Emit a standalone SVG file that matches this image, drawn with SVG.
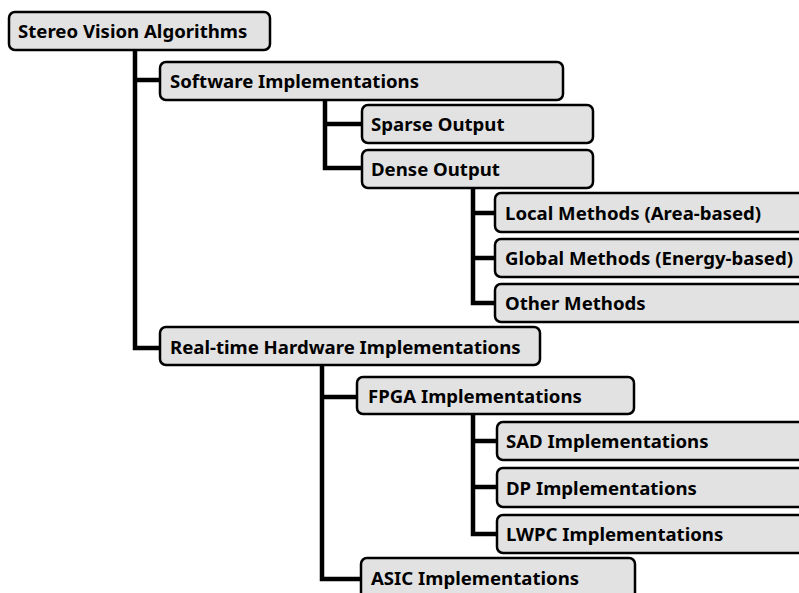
<svg xmlns="http://www.w3.org/2000/svg" width="799" height="593" viewBox="0 0 799 593">
<style>
.box{fill:#e2e2e2;stroke:#000;stroke-width:2.5}
.t{font-family:"Noto Sans","Open Sans",sans-serif;font-weight:bold;font-size:18.6px;fill:#000}
.c{fill:none;stroke:#000;stroke-width:4.5}
</style>
<rect width="799" height="593" fill="#fff"/>
<g id="connectors">
<path class="c" d="M135,50 V348 H160 M135,80 H160"/>
<path class="c" d="M325,100 V168 H362 M325,124 H362"/>
<path class="c" d="M473,188 V303 H495 M473,213 H495 M473,258 H495"/>
<path class="c" d="M322,365 V579 H361 M322,397 H357"/>
<path class="c" d="M473,414 V534 H497 M473,441 H497 M473,487 H497"/>
</g>
<g id="n-root"><rect class="box" x="9" y="12" width="261" height="38" rx="6"/><text class="t" x="18" y="38">Stereo Vision Algorithms</text></g>
<g id="n-software"><rect class="box" x="160" y="62" width="403" height="38" rx="6"/><text class="t" x="170" y="88">Software Implementations</text></g>
<g id="n-sparse"><rect class="box" x="362" y="105" width="231" height="38" rx="6"/><text class="t" x="371" y="131">Sparse Output</text></g>
<g id="n-dense"><rect class="box" x="362" y="150" width="231" height="38" rx="6"/><text class="t" x="371" y="176">Dense Output</text></g>
<g id="n-local"><rect class="box" x="495" y="193" width="330" height="39" rx="6"/><text class="t" x="505" y="220">Local Methods (Area-based)</text></g>
<g id="n-global"><rect class="box" x="495" y="239" width="330" height="38" rx="6"/><text class="t" x="505" y="265">Global Methods (Energy-based)</text></g>
<g id="n-other"><rect class="box" x="495" y="284" width="330" height="38" rx="6"/><text class="t" x="505" y="310">Other Methods</text></g>
<g id="n-realtime"><rect class="box" x="160" y="327" width="380" height="38" rx="6"/><text class="t" x="170" y="354">Real-time Hardware Implementations</text></g>
<g id="n-fpga"><rect class="box" x="357" y="377" width="277" height="37" rx="6"/><text class="t" x="368" y="403">FPGA Implementations</text></g>
<g id="n-sad"><rect class="box" x="497" y="422" width="330" height="38" rx="6"/><text class="t" x="506" y="448">SAD Implementations</text></g>
<g id="n-dp"><rect class="box" x="497" y="468" width="330" height="39" rx="6"/><text class="t" x="506" y="495">DP Implementations</text></g>
<g id="n-lwpc"><rect class="box" x="497" y="515" width="330" height="38" rx="6"/><text class="t" x="506" y="541">LWPC Implementations</text></g>
<g id="n-asic"><rect class="box" x="361" y="558" width="274" height="45" rx="6"/><text class="t" x="371" y="585">ASIC Implementations</text></g>
</svg>
